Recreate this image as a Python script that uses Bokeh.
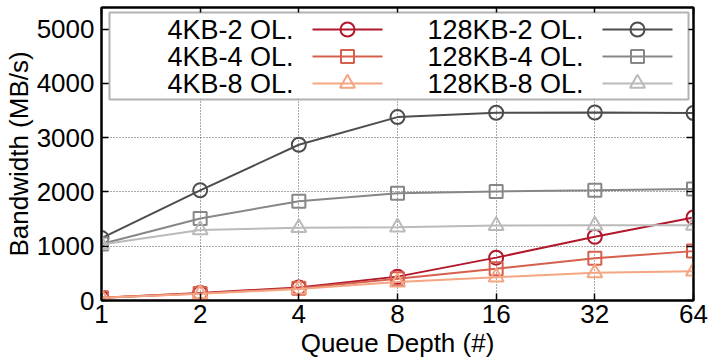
from bokeh.plotting import figure
from bokeh.models import (FixedTicker, LinearAxis, LogAxis, Label, BoxAnnotation,
                          Range1d)
from bokeh.embed import file_html
from bokeh.resources import INLINE

# ---------------- data ----------------
queue_depth = [1, 2, 4, 8, 16, 32, 64]
x_tick_labels = ["1", "2", "4", "8", "16", "32", "64"]
y_ticks = [0, 1000, 2000, 3000, 4000, 5000]

kb4_2 = [50, 140, 240, 440, 790, 1175, 1530]
kb4_4 = [50, 130, 225, 400, 585, 780, 910]
kb4_8 = [50, 125, 210, 340, 430, 510, 540]
kb128_2 = [1150, 2030, 2870, 3380, 3460, 3465, 3455]
kb128_4 = [1040, 1510, 1830, 1975, 2010, 2030, 2055]
kb128_8 = [1030, 1300, 1340, 1350, 1380, 1385, 1385]

series_names = ["4KB-2 OL.", "4KB-4 OL.", "4KB-8 OL.",
                "128KB-2 OL.", "128KB-4 OL.", "128KB-8 OL."]
series_values = [kb4_2, kb4_4, kb4_8, kb128_2, kb128_4, kb128_8]
series_colors = ["#b2182b", "#d6604d", "#f4a582", "#4d4d4d", "#878787", "#bababa"]
series_markers = ["circle", "square", "triangle", "circle", "square", "triangle"]
marker_sizes = [14, 13, 15, 14, 13, 15]

FONT = "Liberation Sans"
X0, X1 = 1, 64
Y0, Y1 = 0, 5400

p = figure(width=708, height=360, x_axis_type="log",
           x_range=Range1d(X0, X1), y_range=Range1d(Y0, Y1),
           output_backend="svg", toolbar_location=None,
           min_border_left=101, min_border_right=15,
           min_border_top=7, min_border_bottom=60)
p.background_fill_color = "white"
p.border_fill_color = "white"
p.outline_line_color = "black"
p.outline_line_width = 2

xt = FixedTicker(ticks=queue_depth, minor_ticks=[])
yt = FixedTicker(ticks=y_ticks, minor_ticks=[])

def style_axis(ax):
    ax.axis_line_color = "black"
    ax.axis_line_width = 2
    ax.major_tick_in = 7
    ax.major_tick_out = 0
    ax.major_tick_line_width = 1.5
    ax.minor_tick_line_color = None
    ax.major_label_text_font = FONT
    ax.major_label_text_font_size = "26px"
    ax.major_label_text_color = "black"
    ax.axis_label_text_font = FONT
    ax.axis_label_text_font_size = "26px"
    ax.axis_label_text_font_style = "normal"
    ax.axis_label_text_color = "black"

xa = p.xaxis[0]
xa.ticker = xt
xa.major_label_overrides = {q: s for q, s in zip(queue_depth, x_tick_labels)}
xa.axis_label = "Queue Depth (#)"
style_axis(xa)
xa.major_label_standoff = 4
xa.axis_label_standoff = 2

ya = p.yaxis[0]
ya.ticker = yt
ya.major_label_overrides = {v: str(v) for v in y_ticks}
ya.axis_label = "Bandwidth (MB/s)"
style_axis(ya)
ya.major_label_standoff = 7
ya.axis_label_standoff = 0

# mirrored ticks (top / right), no labels
top = LogAxis(ticker=xt)
top.major_label_overrides = {q: "" for q in queue_depth}
style_axis(top)
top.major_label_text_font_size = "1px"
top.major_label_standoff = 0
p.add_layout(top, "above")

right = LinearAxis(ticker=yt)
right.major_label_overrides = {v: "" for v in y_ticks}
style_axis(right)
right.major_label_text_font_size = "1px"
right.major_label_standoff = 0
p.add_layout(right, "right")

p.xgrid.ticker = xt
p.ygrid.ticker = yt
for g in (p.xgrid, p.ygrid):
    g.grid_line_color = "#555555"
    g.grid_line_width = 1
    g.grid_line_dash = "1 2"

# ---------------- series ----------------
for name, vals, col, mk, ms in zip(series_names, series_values, series_colors,
                                   series_markers, marker_sizes):
    p.line(queue_depth, vals, line_color=col, line_width=2)
    p.scatter(queue_depth, vals, marker=mk, size=ms, line_color=col,
              line_width=2, fill_alpha=0)

# ---------------- legend (gnuplot style: text left of sample) ----------------
FL, FR, FT, FB = 101, 693, 7, 300  # frame in pixels

def sx(px):
    return X0 * (X1 / X0) ** ((px - FL) / (FR - FL))

def sy(py):
    return Y0 + (FB - py) / (FB - FT) * (Y1 - Y0)

p.add_layout(BoxAnnotation(left=sx(109), right=sx(688), top=sy(12), bottom=sy(99),
                           fill_color="white", fill_alpha=1.0,
                           line_color="black", line_width=2, level="annotation"))

row_y = [29, 56, 83]
cols = [(293, 312, 382), (583, 602, 672)]
for i, (name, col, mk, ms) in enumerate(zip(series_names, series_colors,
                                            series_markers, marker_sizes)):
    c = cols[i // 3]
    r = row_y[i % 3]
    lab = Label(x=sx(c[0]), y=sy(r), text=name, text_align="right",
                text_baseline="middle", text_font=FONT, text_font_size="27px",
                text_color="black", level="overlay")
    p.add_layout(lab)
    ln = p.line([sx(c[1]), sx(c[2])], [sy(r), sy(r)], line_color=col, line_width=2)
    ln.level = "overlay"
    sc = p.scatter([sx((c[1] + c[2]) / 2)], [sy(r)], marker=mk, size=ms,
                   line_color=col, line_width=2, fill_alpha=0)
    sc.level = "overlay"

open("out.html", "w").write(file_html(p, INLINE))
